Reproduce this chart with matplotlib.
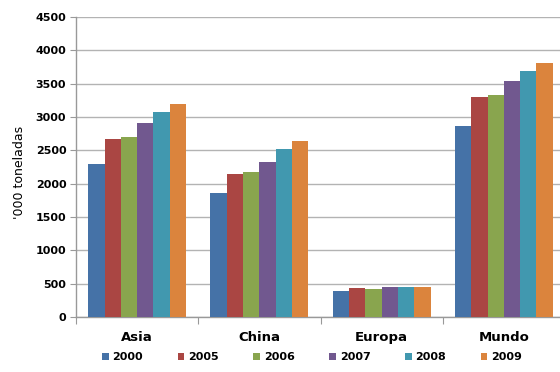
import numpy as np
import matplotlib
matplotlib.use("Agg")
import matplotlib.pyplot as plt
from matplotlib.patches import Patch

regions = ["Asia", "China", "Europa", "Mundo"]
years = ["2000", "2005", "2006", "2007", "2008", "2009"]
asia = [2300, 2670, 2700, 2910, 3075, 3195]
china = [1860, 2145, 2175, 2325, 2520, 2640]
europa = [390, 435, 420, 450, 450, 450]
mundo = [2860, 3295, 3330, 3540, 3690, 3815]
colors = ["#4572A7", "#AA4643", "#89A54E", "#71588F", "#4198AF", "#DB843D"]

vals = np.array([asia, china, europa, mundo])

W, H = 560, 372
fig = plt.figure(figsize=(W / 100, H / 100), dpi=100)
# plot area runs off the right edge like the original
ax = fig.add_axes([76 / W, (H - 317) / H, 489 / W, 300 / H])

x = np.arange(len(regions))
bw = 0.8 / len(years)
for j, yr in enumerate(years):
    ax.bar(x - 0.4 + bw * (j + 0.5), vals[:, j], width=bw, color=colors[j],
           label=yr, zorder=3)

ax.set_xlim(-0.5, 3.5)
ax.set_ylim(0, 4500)
ax.set_yticks(np.arange(0, 4501, 500))
ax.yaxis.grid(True, color="#b3b3b3", linewidth=1, zorder=0)
ax.set_axisbelow(True)

for s in ["top", "right"]:
    ax.spines[s].set_visible(False)
for s in ["left", "bottom"]:
    ax.spines[s].set_color("#999999")
    ax.spines[s].set_linewidth(1)

ax.tick_params(axis="y", length=4, color="#999999", labelsize=8, pad=3)
for lab in ax.get_yticklabels():
    lab.set_fontweight("bold")

# category boundary ticks and centred labels
ax.set_xticks(np.arange(-0.5, 3.6, 1.0))
ax.set_xticklabels([])
ax.tick_params(axis="x", length=5, color="#999999")
ax.set_xticks(x, minor=True)
ax.set_xticklabels(regions, minor=True, fontsize=9.5, fontweight="bold")
ax.tick_params(axis="x", which="minor", length=0, pad=10)

fig.text(20 / W, 1 - 172 / H, "'000 toneladas", rotation=90, fontsize=9,
         ha="center", va="center")

handles = [Patch(facecolor=c, label=y) for c, y in zip(colors, years)]
leg = fig.legend(handles=handles, loc="center", ncol=6,
                 bbox_to_anchor=(312 / W, 1 - 357 / H),
                 frameon=False, handlelength=0.6, handleheight=0.6,
                 handletextpad=0.35, columnspacing=3.1,
                 prop={"size": 8, "weight": "bold"})

fig.savefig("out.png", dpi=100)
